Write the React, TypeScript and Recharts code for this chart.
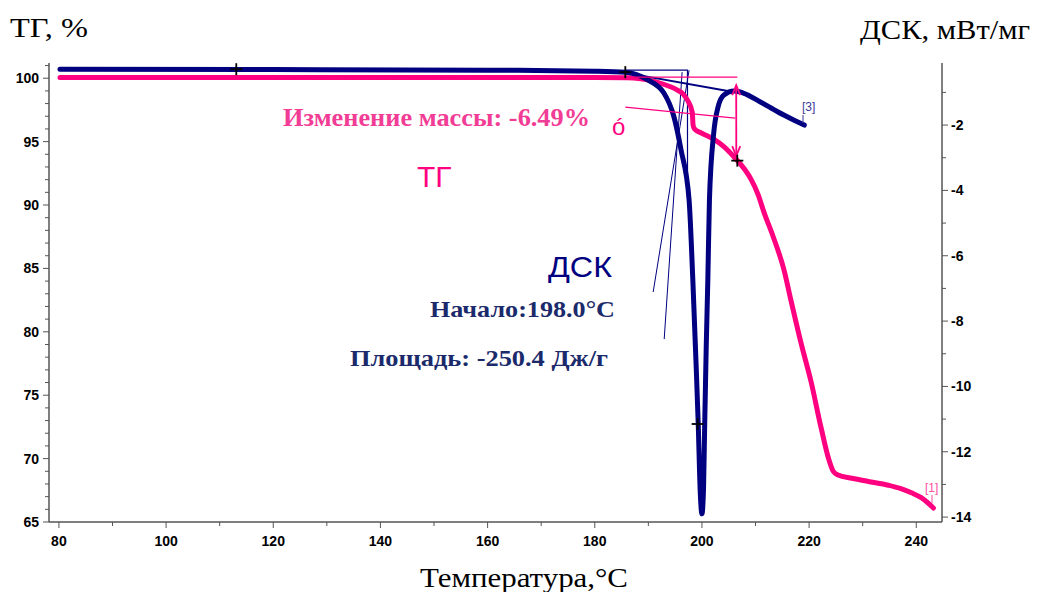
import React from 'react';
import { ComposedChart, Line, XAxis, YAxis, Scatter } from 'recharts';

// ТГ (mass, %) vs temperature
const tgData = [
  { t: 80.2, v: 100.05 }, { t: 110, v: 100.05 }, { t: 150, v: 100.05 }, { t: 180, v: 100.05 },
  { t: 186, v: 100.04 }, { t: 188.6, v: 99.95 }, { t: 190.5, v: 99.8 }, { t: 192.3, v: 99.6 },
  { t: 194, v: 99.35 }, { t: 195.5, v: 99.05 }, { t: 196.5, v: 98.75 }, { t: 197.4, v: 98.2 },
  { t: 198.2, v: 97.3 }, { t: 198.35, v: 96.3 }, { t: 198.6, v: 96.0 }, { t: 199.8, v: 95.7 },
  { t: 202.2, v: 95.2 }, { t: 204.1, v: 94.6 }, { t: 206.4, v: 93.6 }, { t: 208, v: 92.8 },
  { t: 209.2, v: 92.0 }, { t: 210.5, v: 90.8 }, { t: 211.6, v: 89.4 }, { t: 213.3, v: 87.5 },
  { t: 215.3, v: 84.9 }, { t: 216.6, v: 82.5 }, { t: 218.5, v: 79.1 }, { t: 220.4, v: 76.0 },
  { t: 222.2, v: 72.5 }, { t: 223.7, v: 69.9 }, { t: 224.5, v: 69.0 }, { t: 225.4, v: 68.7 },
  { t: 228, v: 68.45 }, { t: 231, v: 68.2 }, { t: 234.8, v: 67.9 }, { t: 237, v: 67.65 },
  { t: 239.1, v: 67.3 }, { t: 241, v: 66.9 }, { t: 243.2, v: 66.1 },
];

// ДСК (mW/mg) vs temperature
const dscData = [
  { t: 80.2, v: -0.29 }, { t: 120, v: -0.3 }, { t: 160, v: -0.32 }, { t: 180, v: -0.35 },
  { t: 185.8, v: -0.38 }, { t: 189.9, v: -0.62 }, { t: 192.9, v: -1.02 }, { t: 194.8, v: -1.76 },
  { t: 196.1, v: -2.76 }, { t: 197.6, v: -4.29 }, { t: 198.3, v: -6.74 }, { t: 198.9, v: -9.28 },
  { t: 199.3, v: -11.11 }, { t: 199.7, v: -13.3 }, { t: 200.0, v: -13.9 }, { t: 200.3, v: -13.1 },
  { t: 200.5, v: -11.3 }, { t: 200.8, v: -8.79 }, { t: 201.1, v: -6.74 }, { t: 201.4, v: -4.29 },
  { t: 202.2, v: -2.24 }, { t: 203.0, v: -1.45 }, { t: 204.1, v: -1.08 }, { t: 206.0, v: -0.96 },
  { t: 207.7, v: -1.02 }, { t: 211.0, v: -1.3 }, { t: 214.2, v: -1.6 }, { t: 217.2, v: -1.85 },
  { t: 219.1, v: -2.0 },
];

// construction lines (analysis overlays)
const dscOnsetBox = [{ t: 185.7, v: -0.32 }, { t: 197.3, v: -0.32 }, { t: 197.31, v: -4.2 }];
const dscTangent1 = [{ t: 190.9, v: -7.11 }, { t: 197.6, v: -0.32 }];
const dscTangent2 = [{ t: 192.96, v: -8.55 }, { t: 196.3, v: -0.38 }];
const dscBaseline = [{ t: 186.1, v: -0.41 }, { t: 205.9, v: -0.99 }];
const tgLevel = [{ t: 185.7, v: 100.08 }, { t: 206.6, v: 100.08 }];
const tgTangent = [{ t: 185.7, v: 97.72 }, { t: 206.2, v: 96.85 }];
const tgArrow = [{ t: 206.4, v: 99.45 }, { t: 206.41, v: 93.85 }];
const tgArrowUp = [{ t: 206.4, v: 99.45 }];
const tgArrowDown = [{ t: 206.4, v: 93.85 }];

const dscMarks = [{ t: 113.1, v: -0.29 }, { t: 185.7, v: -0.38 }, { t: 199.2, v: -11.15 }];
const tgMarks = [{ t: 206.6, v: 93.5 }];

const xTicks = [80, 90, 100, 110, 120, 130, 140, 150, 160, 170, 180, 190, 200, 210, 220, 230, 240];
const tgTicks = [65, 66, 67, 68, 69, 70, 71, 72, 73, 74, 75, 76, 77, 78, 79, 80, 81, 82, 83, 84, 85, 86, 87, 88, 89, 90, 91, 92, 93, 94, 95, 96, 97, 98, 99, 100, 101];
const dscTicks = [-14, -13, -12, -11, -10, -9, -8, -7, -6, -5, -4, -3, -2, -1];

const NAVY = '#000080';
const PINK = '#FF0080';
const AXIS = '#555555';
const TICKFONT = 'Arial, "Liberation Sans", sans-serif';
const SERIF = '"Times New Roman", "Liberation Serif", serif';

const XTick = (p: any) => {
  const { x, y, payload } = p;
  const v = payload.value;
  const major = v % 20 === 0;
  return (
    <g>
      <line x1={x} x2={x} y1={y} y2={y + (major ? 6 : 4)} stroke={AXIS} strokeWidth={1} />
      {major && (
        <text x={x} y={y + 24} textAnchor="middle" fontSize={14} fontWeight="bold" fontFamily={TICKFONT} fill="#000">
          {v}
        </text>
      )}
    </g>
  );
};

const TgTick = (p: any) => {
  const { x, y, payload } = p;
  const v = payload.value;
  const major = v % 5 === 0;
  return (
    <g>
      <line x1={x} x2={x - (major ? 6 : 4)} y1={y} y2={y} stroke={AXIS} strokeWidth={1} />
      {major && (
        <text x={x - 10} y={y + 5} textAnchor="end" fontSize={14} fontWeight="bold" fontFamily={TICKFONT} fill="#000">
          {v}
        </text>
      )}
    </g>
  );
};

const DscTick = (p: any) => {
  const { x, y, payload } = p;
  const v = payload.value;
  const major = v % 2 === 0;
  return (
    <g>
      <line x1={x} x2={x + (major ? 6 : 4)} y1={y} y2={y} stroke={AXIS} strokeWidth={1} />
      {major && (
        <text x={x + 9} y={y + 5} textAnchor="start" fontSize={14} fontWeight="bold" fontFamily={TICKFONT} fill="#000">
          {v}
        </text>
      )}
    </g>
  );
};

const Plus = (p: any) => {
  const { cx, cy } = p;
  return (
    <g stroke="#000" strokeWidth={1.8}>
      <line x1={cx - 6} x2={cx + 6} y1={cy} y2={cy} />
      <line x1={cx} x2={cx} y1={cy - 6} y2={cy + 6} />
    </g>
  );
};

const HeadUp = (p: any) => {
  const { cx, cy } = p;
  return <polyline points={`${cx - 4},${cy + 10} ${cx},${cy} ${cx + 4},${cy + 10}`} fill="none" stroke={PINK} strokeWidth={1.8} />;
};
const HeadDown = (p: any) => {
  const { cx, cy } = p;
  return <polyline points={`${cx - 4},${cy - 10} ${cx},${cy} ${cx + 4},${cy - 10}`} fill="none" stroke={PINK} strokeWidth={1.8} />;
};

const thin = (data: any[], axis: string, color: string, w = 1) => (
  <Line
    data={data}
    dataKey="v"
    yAxisId={axis}
    type="linear"
    stroke={color}
    strokeWidth={w}
    dot={false}
    activeDot={false}
    isAnimationActive={false}
  />
);

export default function App() {
  return (
    <div style={{ position: 'absolute', left: 0, top: 0, width: 1040, height: 592, background: '#fff' }}>
      <ComposedChart width={1040} height={592} margin={{ top: 63, right: 0, bottom: 0, left: 0 }}>
        <XAxis
          dataKey="t"
          type="number"
          domain={[78.15, 244.8]}
          allowDataOverflow
          ticks={xTicks}
          interval={0}
          tick={<XTick />}
          tickSize={0}
          tickMargin={0}
          tickLine={false}
          height={70}
          stroke={AXIS}
          strokeWidth={1.5}
        />
        <YAxis
          yAxisId="tg"
          orientation="left"
          type="number"
          domain={[65, 101.2]}
          allowDataOverflow
          ticks={tgTicks}
          interval={0}
          tick={<TgTick />}
          tickSize={0}
          tickMargin={0}
          tickLine={false}
          width={49}
          stroke={AXIS}
          strokeWidth={1.5}
        />
        <YAxis
          yAxisId="dsc"
          orientation="right"
          type="number"
          domain={[-14.15, -0.1]}
          allowDataOverflow
          ticks={dscTicks}
          interval={0}
          tick={<DscTick />}
          tickSize={0}
          tickMargin={0}
          tickLine={false}
          width={98}
          stroke={AXIS}
          strokeWidth={1.5}
        />

        {thin(dscOnsetBox, 'dsc', NAVY, 1.2)}
        {thin(dscTangent1, 'dsc', NAVY, 1)}
        {thin(dscTangent2, 'dsc', NAVY, 1)}

        <Line
          data={tgData}
          dataKey="v"
          yAxisId="tg"
          type="monotone"
          stroke={PINK}
          strokeWidth={5}
          strokeLinecap="round"
          strokeLinejoin="round"
          dot={false}
          activeDot={false}
          isAnimationActive={false}
        />
        <Line
          data={dscData}
          dataKey="v"
          yAxisId="dsc"
          type="monotone"
          stroke={NAVY}
          strokeWidth={5}
          strokeLinecap="round"
          strokeLinejoin="round"
          dot={false}
          activeDot={false}
          isAnimationActive={false}
        />

        {thin(dscBaseline, 'dsc', NAVY, 2)}
        {thin(tgLevel, 'tg', PINK, 1.3)}
        {thin(tgTangent, 'tg', PINK, 1.1)}
        {thin(tgArrow, 'tg', PINK, 1.8)}

        <Scatter data={tgArrowUp} dataKey="v" yAxisId="tg" shape={<HeadUp />} isAnimationActive={false} />
        <Scatter data={tgArrowDown} dataKey="v" yAxisId="tg" shape={<HeadDown />} isAnimationActive={false} />
        <Scatter data={dscMarks} dataKey="v" yAxisId="dsc" shape={<Plus />} isAnimationActive={false} />
        <Scatter data={tgMarks} dataKey="v" yAxisId="tg" shape={<Plus />} isAnimationActive={false} />
      </ComposedChart>

      <svg width={1040} height={592} style={{ position: 'absolute', left: 0, top: 0, pointerEvents: 'none' }}>
        <text x={10} y={37} fontSize={27} fontFamily={SERIF} fill="#000" textLength={78} lengthAdjust="spacingAndGlyphs">ТГ, %</text>
        <text x={860} y={39} fontSize={27} fontFamily={SERIF} fill="#000" textLength={170} lengthAdjust="spacingAndGlyphs">ДСК, мВт/мг</text>
        <text x={420} y={587} fontSize={27} fontFamily={SERIF} fill="#000" textLength={208} lengthAdjust="spacingAndGlyphs">Температура,°C</text>

        <text x={283} y={126} fontSize={25} fontWeight="bold" fontFamily={SERIF} fill="#F23D96" textLength={307} lengthAdjust="spacingAndGlyphs">Изменение массы: -6.49%</text>
        <text x={612} y={135} fontSize={24} fontFamily={TICKFONT} fill={PINK}>ó</text>
        <text x={417} y={187} fontSize={30} fontFamily={TICKFONT} fill={PINK}>ТГ</text>
        <text x={548} y={277} fontSize={30} fontFamily={TICKFONT} fill={NAVY} textLength={64} lengthAdjust="spacingAndGlyphs">ДСК</text>
        <text x={430} y={317} fontSize={23} fontWeight="bold" fontFamily={SERIF} fill="#1B2A6B" textLength={185} lengthAdjust="spacingAndGlyphs">Начало:198.0°C</text>
        <text x={350} y={366} fontSize={23} fontWeight="bold" fontFamily={SERIF} fill="#1B2A6B" textLength={258} lengthAdjust="spacingAndGlyphs">Площадь: -250.4 Дж/г</text>

        <text x={802} y={111} fontSize={12} fontFamily={TICKFONT} fill="#3A3A9A">[3]</text>
        <line x1={803} x2={803} y1={115} y2={123} stroke="#3A3A9A" strokeWidth={1} />
        <text x={925} y={492} fontSize={12} fontFamily={TICKFONT} fill="#FF4FA0">[1]</text>
        <line x1={932} x2={932} y1={495} y2={503} stroke="#FF4FA0" strokeWidth={1} />
      </svg>
    </div>
  );
}
